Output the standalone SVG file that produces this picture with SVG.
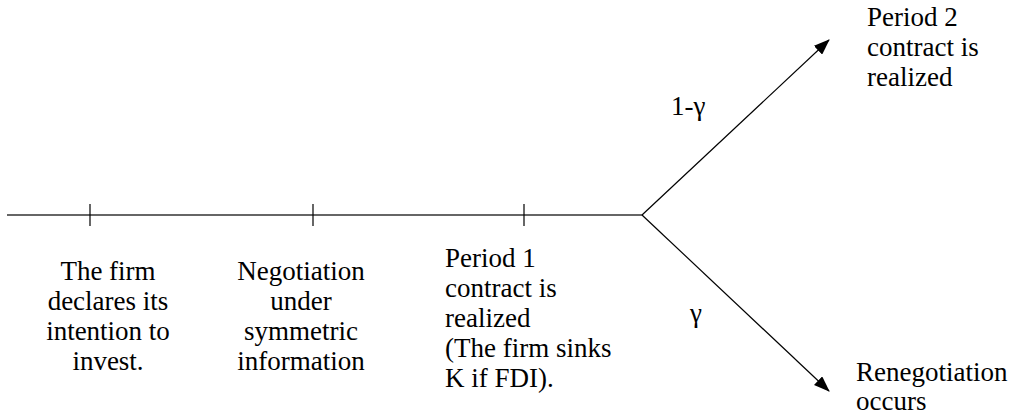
<svg xmlns="http://www.w3.org/2000/svg" width="1015" height="416" viewBox="0 0 1015 416">
  <style>
    .lbl { font-family: "Liberation Serif", "DejaVu Serif", "Noto Serif", "Times New Roman", Times, serif; font-size: 27px; fill: #000; }
    .c { text-anchor: middle; }
    .axis { stroke: #333; stroke-width: 1.5; fill: none; }
    .tick { stroke: #000; stroke-width: 1.2; }
    .branch { stroke: #000; stroke-width: 1.2; fill: none; }
  </style>
  <defs>
    <marker id="arrow" viewBox="0 0 16 12" refX="15" refY="6" markerWidth="16" markerHeight="12" markerUnits="userSpaceOnUse" orient="auto">
      <path d="M0,0 L16,6 L0,12 Z" fill="#000"/>
    </marker>
  </defs>
  <rect width="1015" height="416" fill="#fff"/>

  <!-- timeline, ticks and the two outcome branches -->
  <g id="connectors">
    <line class="axis" x1="7" y1="215" x2="642" y2="215"/>
    <line class="tick" x1="90" y1="204" x2="90" y2="226"/>
    <line class="tick" x1="313" y1="204" x2="313" y2="226"/>
    <line class="tick" x1="524" y1="204" x2="524" y2="226"/>
    <line class="branch" x1="642" y1="215" x2="829" y2="40" marker-end="url(#arrow)"/>
    <line class="branch" x1="642" y1="215" x2="829" y2="391" marker-end="url(#arrow)"/>
  </g>

  <g id="declare" class="lbl" font-family="Liberation Serif, DejaVu Serif, serif">
    <text class="c" x="108" y="280">The firm</text>
    <text class="c" x="108" y="310">declares its</text>
    <text class="c" x="108" y="340">intention to</text>
    <text class="c" x="108" y="370">invest.</text>
  </g>

  <g id="negotiation" class="lbl" font-family="Liberation Serif, DejaVu Serif, serif">
    <text class="c" x="301" y="280">Negotiation</text>
    <text class="c" x="301" y="310">under</text>
    <text class="c" x="301" y="340">symmetric</text>
    <text class="c" x="301" y="370">information</text>
  </g>

  <g id="period1" class="lbl" font-family="Liberation Serif, DejaVu Serif, serif">
    <text x="445" y="267">Period 1</text>
    <text x="445" y="297">contract is</text>
    <text x="445" y="327">realized</text>
    <text x="445" y="357">(The firm sinks</text>
    <text x="445" y="387">K if FDI).</text>
  </g>

  <g id="period2" class="lbl" font-family="Liberation Serif, DejaVu Serif, serif">
    <text x="867" y="26">Period 2</text>
    <text x="867" y="56">contract is</text>
    <text x="867" y="86">realized</text>
  </g>

  <g id="renegotiation" class="lbl" font-family="Liberation Serif, DejaVu Serif, serif">
    <text x="856" y="381">Renegotiation</text>
    <text x="856" y="410">occurs</text>
  </g>

  <g id="prob-labels" class="lbl" font-family="Liberation Serif, DejaVu Serif, serif">
    <text x="671" y="115">1-γ</text>
    <text x="690" y="322">γ</text>
  </g>
</svg>
